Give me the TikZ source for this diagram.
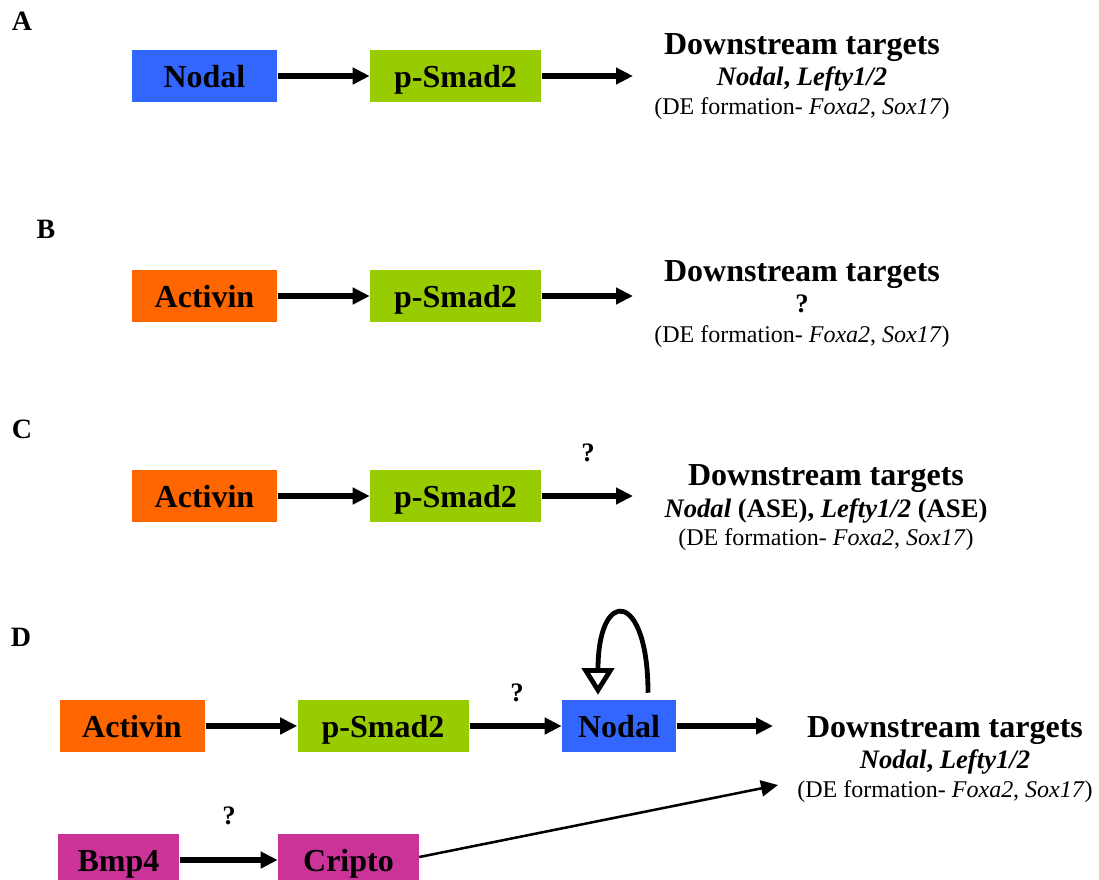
\documentclass[tikz,border=0pt]{standalone}
\usepackage{fontspec}
\setmainfont{Liberation Serif}
\usetikzlibrary{arrows.meta}
\definecolor{nodalblue}{HTML}{3366FF}
\definecolor{smadgreen}{HTML}{99CC00}
\definecolor{activinorange}{HTML}{FF6600}
\definecolor{bmpmagenta}{HTML}{CC3399}

\begin{document}
\begin{tikzpicture}[x=0.75pt,y=-0.75pt,
  factor/.style={inner sep=0pt, minimum height=39pt, text height=16.5pt,
    text depth=0pt, font=\fontsize{24}{28}\selectfont\bfseries},
  signal/.style={line width=4.2pt, shorten <=0.75pt,
    -{Triangle[length=12.75pt,width=12pt]}},
  thinsignal/.style={line width=1.9pt, -{Triangle[length=12.75pt,width=12pt]}},
  feedback/.style={line width=3.6pt,
    -{Triangle[fill=white,length=20pt,width=24pt]}},
  panel/.style={anchor=base, inner sep=0pt, font=\fontsize{21}{24}\selectfont\bfseries},
  head/.style={anchor=base, inner sep=0pt, font=\fontsize{24}{28}\selectfont\bfseries},
  gene/.style={anchor=base, inner sep=0pt, font=\fontsize{20}{24}\selectfont\bfseries},
  note/.style={anchor=base, inner sep=0pt, font=\fontsize{18}{22}\selectfont},
  query/.style={inner sep=0pt, font=\fontsize{20}{24}\selectfont\bfseries}]

\useasboundingbox (0,0) rectangle (1099,879);
\clip (0,0) rectangle (1099,879);

% ---- A: Nodal signalling
\node[panel] (labA) at (22,30) {A};
\node[factor, fill=nodalblue, minimum width=108.75pt] (nodalA) at (204.5,76) {Nodal};
\node[factor, fill=smadgreen, minimum width=128.25pt] (smadA) at (455.5,76) {p-Smad2};
\coordinate (endA) at (633,76);
\draw[signal] (nodalA) -- (smadA);
\draw[signal] (smadA) -- (endA);
\node[head] (tgtA) at (802,54) {Downstream targets};
\node[gene] (geneA) at (802,85) {\textit{Nodal}, \textit{Lefty1/2}};
\node[note] (deA) at (802,114) {(DE formation- \textit{Foxa2}, \textit{Sox17})};

% ---- B: Activin signalling, targets unknown
\node[panel] (labB) at (46,238) {B};
\node[factor, fill=activinorange, minimum width=108.75pt] (actB) at (204.5,296) {Activin};
\node[factor, fill=smadgreen, minimum width=128.25pt] (smadB) at (455.5,296) {p-Smad2};
\coordinate (endB) at (633,296);
\draw[signal] (actB) -- (smadB);
\draw[signal] (smadB) -- (endB);
\node[head] (tgtB) at (802,281) {Downstream targets};
\node[gene] (geneB) at (802,312) {?};
\node[note] (deB) at (802,342) {(DE formation- \textit{Foxa2}, \textit{Sox17})};

% ---- C: Activin signalling through the ASE
\node[panel] (labC) at (22,438) {C};
\node[factor, fill=activinorange, minimum width=108.75pt] (actC) at (204.5,496) {Activin};
\node[factor, fill=smadgreen, minimum width=128.25pt] (smadC) at (455.5,496) {p-Smad2};
\coordinate (endC) at (633,496);
\draw[signal] (actC) -- (smadC);
\draw[signal] (smadC) -- (endC);
\node[query] (qC) at (588,453) {?};
\node[head] (tgtC) at (826,485) {Downstream targets};
\node[gene] (geneC) at (826,517) {\textit{Nodal} (ASE), \textit{Lefty1/2} (ASE)};
\node[note] (deC) at (826,545) {(DE formation- \textit{Foxa2}, \textit{Sox17})};

% ---- D: combined model with Nodal feedback and Bmp4/Cripto input
\node[panel] (labD) at (21,646) {D};
\node[factor, fill=activinorange, minimum width=108.75pt] (actD) at (132,726) {Activin};
\node[factor, fill=smadgreen, minimum width=128.25pt] (smadD) at (383,726) {p-Smad2};
\node[factor, fill=nodalblue, minimum width=85.5pt] (nodalD) at (619,726) {Nodal};
\coordinate (endD) at (773,726);
\draw[signal] (actD) -- (smadD);
\draw[signal] (smadD) -- (nodalD);
\draw[signal] (nodalD) -- (endD);
\node[query] (qD) at (517,693) {?};
\draw[feedback] ([xshift=21.75pt,yshift=5.25pt]nodalD.north)
  .. controls +(0,-103) and +(0,-108) .. ([xshift=-15.75pt,yshift=3.75pt]nodalD.north);
\node[head] (tgtD) at (945,737) {Downstream targets};
\node[gene] (geneD) at (945,768) {\textit{Nodal}, \textit{Lefty1/2}};
\node[note] (deD) at (945,797) {(DE formation- \textit{Foxa2}, \textit{Sox17})};

\node[factor, fill=bmpmagenta, minimum width=90.75pt] (bmp) at (118.5,860) {Bmp4};
\node[factor, fill=bmpmagenta, minimum width=105.75pt] (cripto) at (348.5,860) {Cripto};
\draw[signal] (bmp) -- (cripto);
\node[query] (qBmp) at (229,816) {?};
\coordinate (endCripto) at (778,785);
\draw[thinsignal] ([yshift=2.25pt]cripto.east) -- (endCripto);
\end{tikzpicture}
\end{document}
